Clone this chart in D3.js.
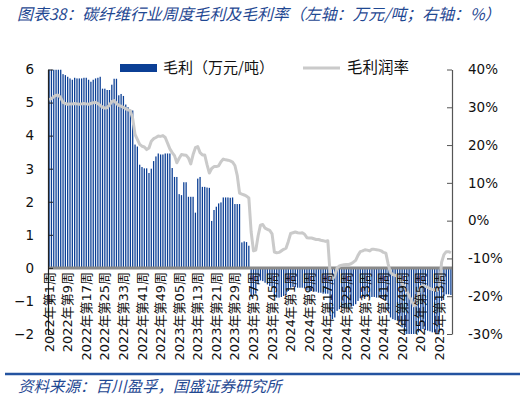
<!DOCTYPE html>
<html>
<head>
<meta charset="utf-8">
<script src="https://cdn.jsdelivr.net/npm/d3@7"></script>
<style>
  body { margin: 0; background: #fff; }
  svg { display: block; }
</style>
</head>
<body>
<div id="chart"></div>
<script>
// weeks per year shown on the category axis
const years = [2022, 2023, 2024, 2025];
const weeksPerYear = [52, 52, 52, 18];

// every 8th category carries a label
const tickLabels = [
  "2022年第1周", "2022年第9周", "2022年第17周", "2022年第25周", "2022年第33周",
  "2022年第41周", "2022年第49周", "2023年第05周", "2023年第13周", "2023年第21周",
  "2023年第29周", "2023年第37周", "2023年第45周", "2024年第1周", "2024年第9周",
  "2024年第17周", "2024年第25周", "2024年第33周", "2024年第41周", "2024年第49周",
  "2025年第5周", "2025年第13周"
];

// 毛利 (万元/吨), left axis
const grossProfit = [
  6.0, 6.0, 6.0, 6.0, 6.0, 6.0, 5.86, 5.83, 5.78, 5.73,
  5.69, 5.75, 5.73, 5.73, 5.73, 5.75, 5.75, 5.69, 5.63, 5.69,
  5.73, 5.75, 5.78, 5.42, 5.42, 5.38, 5.38, 5.54, 5.72, 5.72,
  5.22, 5.26, 5.20, 4.94, 4.86, 4.78, 4.76, 3.73, 3.67, 3.12,
  3.05, 3.01, 3.01, 2.87, 3.00, 3.23, 3.37, 3.46, 3.43, 3.43,
  3.46, 3.46, 3.46, 3.02, 2.75, 2.75, 2.23, 2.20, 2.59, 2.59,
  2.15, 2.15, 2.15, 1.67, 2.70, 2.75, 2.45, 2.45, 2.43, 2.42,
  1.42, 1.75, 1.85, 1.95, 1.98, 2.13, 2.13, 2.13, 2.12, 2.13,
  1.93, 1.93, 1.93, 0.77, 0.80, 0.78, 0.67, -0.88, -0.82, -0.78,
  -0.50, -0.38, -0.40, -0.45, -0.50, -0.55, -0.60, -0.88, -0.90, -0.90,
  -0.88, -0.85, -0.82, -0.70, -0.60, -0.58, -0.58, -0.60, -0.60, -0.60,
  -0.62, -0.68, -0.70, -0.70, -0.72, -0.72, -0.75, -0.75, -0.78, -0.78,
  -0.78, -1.45, -1.55, -1.50, -1.30, -1.25, -1.22, -1.22, -1.20, -1.20,
  -1.18, -1.15, -1.10, -1.00, -0.92, -0.90, -0.88, -0.88, -0.90, -0.88,
  -0.88, -0.90, -0.90, -0.92, -0.95, -0.98, -1.30, -1.50, -1.55, -1.58,
  -1.60, -1.65, -1.80, -1.95, -2.00, -2.00, -2.00, -2.00, -2.00, -1.95,
  -1.90, -1.85, -1.88, -1.90, -1.92, -1.95, -1.95, -1.98, -1.95, -1.00,
  -0.85, -0.80, -0.80, -0.82
];

// 毛利润率 (%), right axis
const grossMargin = [
  32.0, 32.3, 32.8, 33.2, 33.2, 32.5, 31.3, 31.0, 30.8, 30.9,
  30.9, 31.0, 30.9, 30.8, 30.9, 31.0, 30.9, 30.8, 31.0, 31.2,
  31.3, 31.0, 30.5, 30.0, 29.8, 29.9, 30.6, 31.5, 31.8, 31.0,
  30.5, 30.3, 30.0, 29.6, 29.3, 29.1, 27.0, 22.8, 21.5, 20.2,
  19.7, 19.5, 18.8, 19.2, 21.0, 21.7, 22.0, 22.4, 22.3, 22.5,
  22.0, 20.5, 19.0, 18.0, 17.2, 15.3, 16.5, 17.5, 17.4, 17.3,
  16.6, 15.0, 17.5, 19.3, 19.6, 18.0, 17.4, 17.4, 14.8, 12.6,
  13.8, 14.3, 14.3, 14.5, 15.6, 16.3, 16.1, 16.0, 15.8, 15.5,
  14.6, 12.0, 7.3, 7.0, 6.8, 6.5, 6.0, -3.0, -8.0, -7.8,
  -4.0, -1.2, -1.0, -2.0, -2.3, -2.6, -3.5, -8.3, -8.5, -8.4,
  -8.0, -7.6, -7.3, -5.5, -3.4, -3.2, -3.0, -3.2, -3.3, -3.2,
  -3.6, -4.5, -4.6, -4.6, -4.8, -5.0, -5.0, -5.2, -5.3, -5.5,
  -5.3, -14.0, -15.5, -14.5, -12.5, -12.0, -11.8, -11.7, -11.6, -11.6,
  -11.4, -11.0, -10.5, -9.2, -8.2, -8.0, -7.7, -7.8, -8.0, -7.6,
  -7.6, -7.7, -7.8, -8.0, -8.4, -8.6, -11.5, -13.8, -14.3, -14.5,
  -14.6, -15.0, -16.5, -17.6, -18.5, -20.0, -21.0, -22.5, -22.3, -19.5,
  -17.5, -17.2, -17.4, -17.6, -18.0, -18.2, -18.3, -18.5, -18.0, -11.0,
  -9.0, -8.2, -8.2, -8.5
];

// build week category names
let categories = [];
years.forEach((yr, k) => {
  for (let w = 1; w <= weeksPerYear[k]; w++) categories.push(yr + "年第" + w + "周");
});

const W = 525, H = 399;
const plotL = 48, plotR = 452, plotT = 69.5, plotB = 334;
const blue = "#0b3f95", navy = "#1f4892";
const cjk = "'Noto Sans CJK SC', 'Noto Sans', sans-serif";
const num = "'DejaVu Sans', 'Noto Sans CJK SC', sans-serif";

let svg = d3.select("#chart").append("svg")
  .attr("width", W).attr("height", H);

let x = d3.scaleBand().domain(categories).range([plotL, plotR]).paddingInner(0.45).paddingOuter(0.2);
let y = d3.scaleLinear().domain([-2, 6]).range([plotB, plotT]);
let y2 = d3.scaleLinear().domain([-30, 40]).range([plotB, plotT]);

svg.append("defs").append("clipPath").attr("id", "plot")
  .append("rect").attr("x", plotL).attr("y", plotT).attr("width", plotR - plotL).attr("height", plotB - plotT);

// bars
svg.append("g").attr("clip-path", "url(#plot)")
  .selectAll("rect")
  .data(grossProfit)
  .enter().append("rect")
  .attr("x", (d, i) => x(categories[i]))
  .attr("width", x.bandwidth())
  .attr("y", d => y(Math.max(d, 0)))
  .attr("height", d => Math.abs(y(d) - y(0)))
  .attr("fill", blue);

// zero / category axis line
svg.append("line")
  .attr("x1", plotL).attr("x2", plotR)
  .attr("y1", y(0)).attr("y2", y(0))
  .attr("stroke", "#8a8a8a").attr("stroke-width", 3);

// margin line
let line = d3.line()
  .x((d, i) => x(categories[i]) + x.bandwidth() / 2)
  .y(d => y2(d));

svg.append("path")
  .datum(grossMargin)
  .attr("d", line)
  .attr("fill", "none")
  .attr("stroke", "#cacaca")
  .attr("stroke-width", 3)
  .attr("stroke-linejoin", "round");

// left axis
let yAxis = svg.append("g")
  .attr("transform", `translate(${plotL},0)`)
  .call(d3.axisLeft(y).tickValues(d3.range(-2, 7)).tickSizeInner(-5).tickSizeOuter(0).tickPadding(14));
yAxis.select(".domain").attr("stroke", "#222").attr("stroke-width", 1.2);
yAxis.selectAll(".tick line").attr("stroke", "#222");
yAxis.selectAll("text").attr("font-family", num).attr("font-size", 13.5).attr("fill", "#111");

// right axis
let y2Axis = svg.append("g")
  .attr("transform", `translate(${plotR},0)`)
  .call(d3.axisRight(y2).tickValues(d3.range(-30, 41, 10)).tickFormat(d => d + "%")
    .tickSizeInner(-5).tickSizeOuter(0).tickPadding(16));
y2Axis.select(".domain").attr("stroke", "#555").attr("stroke-width", 1.2);
y2Axis.selectAll(".tick line").attr("stroke", "#555");
y2Axis.selectAll("text").attr("font-family", num).attr("font-size", 13.5).attr("fill", "#111");

// category labels, vertical
let labelled = categories.filter((d, i) => i % 8 === 0);
let xAxis = svg.append("g")
  .attr("transform", `translate(0,${y(0) + 4})`)
  .call(d3.axisBottom(x).tickValues(labelled).tickFormat((d, i) => tickLabels[i]).tickSize(0).tickPadding(0));
xAxis.select(".domain").remove();
xAxis.selectAll("text")
  .attr("font-family", num).attr("font-size", 13).attr("fill", "#111")
  .attr("text-anchor", "end")
  .attr("dy", "0.35em")
  .attr("transform", "rotate(-90)")
  .attr("x", 0).attr("y", 0);

// legend
let lg = svg.append("g");
lg.append("rect").attr("x", 120).attr("y", 64).attr("width", 37).attr("height", 8).attr("fill", blue);
lg.append("text").attr("x", 163).attr("y", 73).text("毛利（万元/吨）")
  .attr("font-family", cjk).attr("font-size", 15).attr("fill", "#111");
lg.append("line").attr("x1", 303).attr("x2", 340).attr("y1", 68).attr("y2", 68)
  .attr("stroke", "#cacaca").attr("stroke-width", 3);
lg.append("text").attr("x", 347).attr("y", 73).text("毛利润率")
  .attr("font-family", cjk).attr("font-size", 15.5).attr("fill", "#111");

// title
svg.append("text").attr("x", 17).attr("y", 20)
  .text("图表38：碳纤维行业周度毛利及毛利率（左轴：万元/吨；右轴：%）")
  .attr("font-family", cjk).attr("font-size", 15.9).attr("font-style", "italic").attr("fill", navy);

// footer
svg.append("line").attr("x1", 5).attr("x2", 520).attr("y1", 374).attr("y2", 374)
  .attr("stroke", "#2453a0").attr("stroke-width", 2.5);
svg.append("text").attr("x", 18).attr("y", 392)
  .text("资料来源：百川盈孚，国盛证券研究所")
  .attr("font-family", cjk).attr("font-size", 15.5).attr("font-style", "italic").attr("fill", navy);
</script>
</body>
</html>
